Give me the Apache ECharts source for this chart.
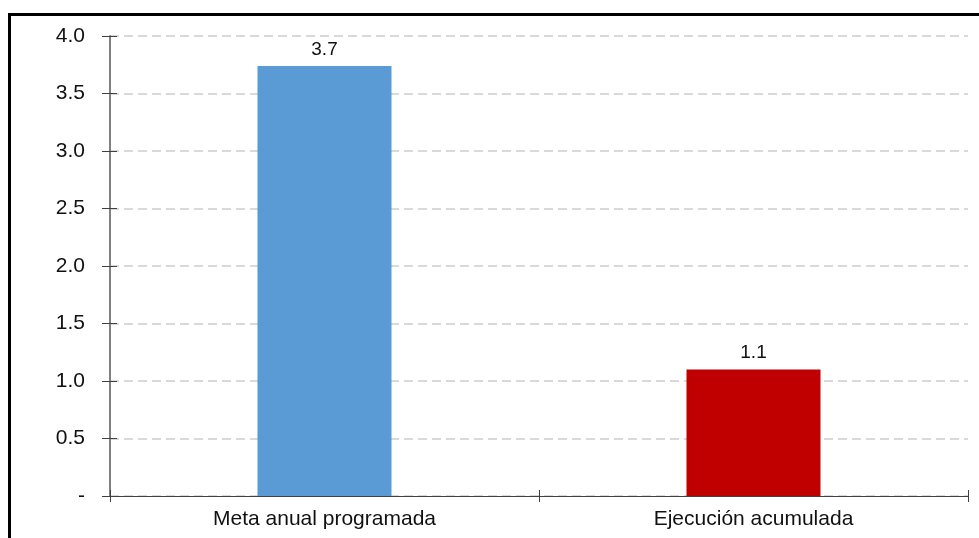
<!DOCTYPE html>
<html>
<head>
<meta charset="utf-8">
<script src="https://cdn.jsdelivr.net/npm/echarts@6/dist/echarts.min.js"></script>
<style>
  html, body { margin: 0; padding: 0; background: #fff; }
  #frame { position: absolute; left: 8px; top: 13px; width: 1100px; height: 700px; border: 3px solid #000; box-sizing: border-box; }
  #chart { position: absolute; left: 0; top: 0; width: 979px; height: 538px; }
</style>
</head>
<body>
<div id="frame"></div>
<div id="chart"></div>
<script>
// chart data
const categories = ['Meta anual programada', 'Ejecución acumulada']
const values = [3.74, 1.1]
const barColors = ['#5B9BD5', '#C00000']
const yTicks = [0, 0.5, 1.0, 1.5, 2.0, 2.5, 3.0, 3.5, 4.0]

const chart = echarts.init(document.getElementById('chart'))

const fmtTick = v => (v === 0 ? '-' : v.toFixed(1))

chart.setOption({
  animation: false,
  textStyle: { fontFamily: 'Liberation Sans, Arial, sans-serif' },
  grid: { left: 110, right: 11, top: 36, bottom: 42 },
  xAxis: [
    {
      type: 'category',
      data: categories,
      axisLine: { lineStyle: { color: '#404040', width: 1 } },
      axisTick: { show: true, length: 6, inside: false, lineStyle: { color: '#404040' } },
      axisLabel: { color: '#111', fontSize: 21, margin: 13 }
    },
    {
      type: 'category',
      data: categories,
      position: 'bottom',
      axisLine: { show: false },
      axisTick: { show: true, length: 6, inside: true, lineStyle: { color: '#404040' } },
      axisLabel: { show: false }
    }
  ],
  yAxis: [
    {
      type: 'value',
      min: yTicks[0],
      max: yTicks[yTicks.length - 1],
      interval: 0.5,
      axisLine: { show: true, lineStyle: { color: '#808080', width: 2 } },
      axisTick: { show: true, length: 8, lineStyle: { color: '#404040' } },
      axisLabel: { color: '#111', fontSize: 21, margin: 25, formatter: fmtTick },
      splitLine: { show: true, lineStyle: { color: '#d9d9d9', width: 2, type: [9, 5] } }
    },
    {
      type: 'value',
      position: 'left',
      min: yTicks[0],
      max: yTicks[yTicks.length - 1],
      interval: 0.5,
      axisLine: { show: false },
      axisTick: { show: true, inside: true, length: 7, lineStyle: { color: '#404040' } },
      axisLabel: { show: false },
      splitLine: { show: false }
    }
  ],
  series: [
    {
      type: 'bar',
      barWidth: 134,
      data: values.map((v, i) => ({ value: v, itemStyle: { color: barColors[i] } })),
      label: {
        show: true,
        position: 'top',
        distance: 7,
        color: '#111',
        fontSize: 19,
        formatter: p => p.value.toFixed(1)
      }
    }
  ]
})
</script>
</body>
</html>
